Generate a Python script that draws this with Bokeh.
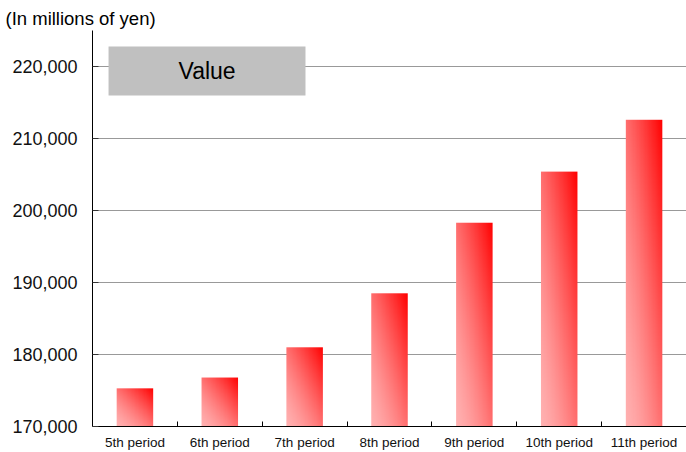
import numpy as np
from bokeh.plotting import figure
from bokeh.models import FixedTicker, NumeralTickFormatter, BoxAnnotation, Label, Range1d
from bokeh.embed import file_html
from bokeh.resources import INLINE

# Net value by fiscal period (millions of yen)
periods = ["5th period", "6th period", "7th period", "8th period",
           "9th period", "10th period", "11th period"]
values = [175300, 176800, 181000, 188500, 198300, 205400, 212600]
y_ticks = [170000, 180000, 190000, 200000, 210000, 220000]

Y_MIN, Y_MAX = 170000, 225000
BAR_W = 0.43
FONT = "Liberation Sans"

xs = list(range(1, len(periods) + 1))

p = figure(width=686, height=452,
           x_range=Range1d(0.5, len(periods) + 0.5),
           y_range=Range1d(Y_MIN, Y_MAX),
           output_backend="svg", toolbar_location=None,
           min_border_left=92, min_border_right=0,
           min_border_top=30, min_border_bottom=26)
p.outline_line_color = None
p.background_fill_color = "white"
p.border_fill_color = "white"

# Title
p.title.text = "(In millions of yen)"
p.title.text_font = FONT
p.title.text_font_size = "18.5px"
p.title.text_font_style = "normal"
p.title.text_color = "#000000"
p.title.align = "left"
p.title.offset = -87
p.title.standoff = 4

# Diagonal gradient: light pink at bottom-left to pure red at top-right
def gradient_image(rows=256, cols=64):
    u = np.linspace(0.0, 1.0, cols)[None, :]
    v = np.linspace(0.0, 1.0, rows)[:, None]
    t = ((u + v) / 2.0) ** 1.4
    img = np.empty((rows, cols), dtype=np.uint32)
    view = img.view(dtype=np.uint8).reshape((rows, cols, 4))
    view[..., 0] = 255
    view[..., 1] = np.round(176 * (1 - t)).astype(np.uint8)
    view[..., 2] = np.round(176 * (1 - t)).astype(np.uint8)
    view[..., 3] = 255
    return img

grad = gradient_image()
p.image_rgba(image=[grad] * len(values),
             x=[x - BAR_W / 2 for x in xs],
             y=[Y_MIN] * len(values),
             dw=[BAR_W] * len(values),
             dh=[v - Y_MIN for v in values])

# Y axis
p.yaxis.ticker = FixedTicker(ticks=y_ticks)
p.yaxis.formatter = NumeralTickFormatter(format="0,0")
p.yaxis.major_tick_in = 6
p.yaxis.major_tick_out = 0
p.yaxis.minor_tick_line_color = None
p.yaxis.axis_line_color = "black"
p.yaxis.major_tick_line_color = "#333333"
p.yaxis.major_label_text_font = FONT
p.yaxis.major_label_text_font_size = "18px"
p.yaxis.major_label_text_color = "#111111"
p.yaxis.major_label_standoff = 15

p.ygrid.ticker = FixedTicker(ticks=y_ticks)
p.ygrid.grid_line_color = "#999999"
p.xgrid.grid_line_color = None

# X axis: labels at bar centres, tick marks at the category boundaries
p.xaxis.ticker = FixedTicker(ticks=xs, minor_ticks=[x + 0.5 for x in xs[:-1]])
p.xaxis.major_label_overrides = {x: name for x, name in zip(xs, periods)}
p.xaxis.major_tick_line_color = None
p.xaxis.major_tick_in = 0
p.xaxis.major_tick_out = 0
p.xaxis.minor_tick_in = 5
p.xaxis.minor_tick_out = 0
p.xaxis.minor_tick_line_color = "black"
p.xaxis.axis_line_color = "black"
p.xaxis.major_label_text_font = FONT
p.xaxis.major_label_text_font_size = "13.5px"
p.xaxis.major_label_text_color = "#111111"
p.xaxis.major_label_standoff = 8

# Series caption box
p.add_layout(BoxAnnotation(left=0.689, right=3.010, bottom=215972, top=222778,
                           fill_color="#C0C0C0", fill_alpha=1.0, line_color=None))
p.add_layout(Label(x=1.85, y=219375, text="Value", text_align="center",
                   text_baseline="middle", text_font=FONT,
                   text_font_size="23px", text_color="#000000"))

open("out.html", "w").write(file_html(p, INLINE))
